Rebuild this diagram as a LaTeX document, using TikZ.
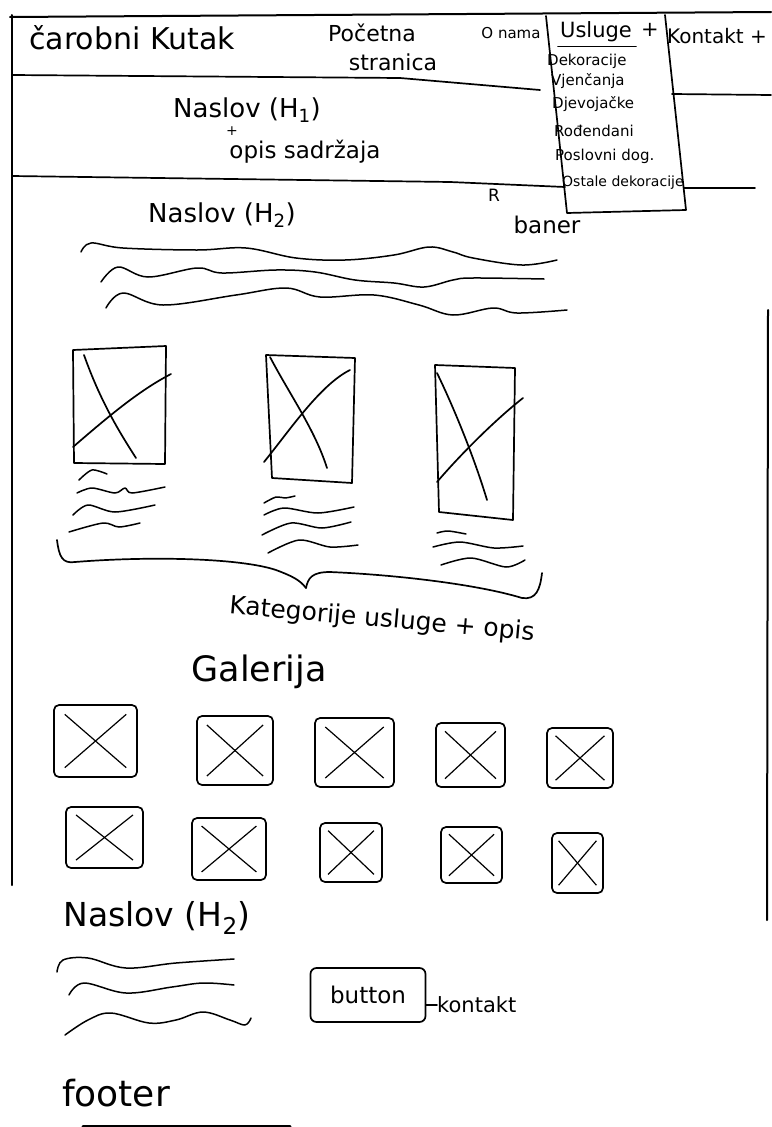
\documentclass[tikz,border=0pt]{standalone}
\usepackage{fontspec}
\setmainfont{DejaVu Sans}
\usetikzlibrary{calc}
\newcommand\myfs[1]{\fontsize{#1}{#1}\selectfont}
\tikzset{
  edge/.style={line width=2pt, line cap=round, line join=round},
  ink/.style={line width=1.7pt, line cap=round, line join=round},
  wav/.style={line width=1.5pt, line cap=round, line join=round},
  lbl/.style={inner sep=0pt, anchor=center},
  gbox/.style={draw, line width=1.7pt, rounded corners=5pt, inner sep=0pt,
    path picture={
      \draw[line width=1.2pt]
        ($(path picture bounding box.north west)!0.13!(path picture bounding box.south east)$) --
        ($(path picture bounding box.north west)!0.87!(path picture bounding box.south east)$);
      \draw[line width=1.2pt]
        ($(path picture bounding box.south west)!0.13!(path picture bounding box.north east)$) --
        ($(path picture bounding box.south west)!0.87!(path picture bounding box.north east)$);
    }},
}
\begin{document}
\begin{tikzpicture}[x=1pt,y=-1pt]
\useasboundingbox[fill=white] (0,0) rectangle (771,1127);

% page borders
\draw[edge] (10,17) -- (771,12);
\draw[edge] (12,15) -- (12,885);
\draw[edge] (768,310) -- (767,920);
\draw[edge, line width=3pt] (83,1126) -- (290,1126);

% header separators
\draw[ink] (12,75) -- (400,78) -- (540,90);
\draw[ink] (672,94) -- (771,95);
\draw[ink] (12,176) -- (450,182) -- (565,187);
\draw[ink] (684,188) -- (755,188);

% dropdown box
\draw[ink] (546,16) -- (567,213) -- (686,210) -- (665,15);

% header texts
\node[lbl] (logo) at (132,38) {\myfs{30}čarobni Kutak};
\node[lbl] (poc1) at (372,33) {\myfs{22}Početna};
\node[lbl] (poc2) at (393,62) {\myfs{22}stranica};
\node[lbl] (onama) at (511,33) {\myfs{15}O nama};
\node[lbl] (usl) at (596,32) {\myfs{21}Usluge};
\node[lbl] (uplus) at (650,30) {\myfs{21}+};
\draw[ink] (usl.south west) ++(-2,4) -- ($(usl.south east)+(4,4)$);
\node[lbl] (kont) at (717,36) {\myfs{20}Kontakt +};

% dropdown items
\node[lbl, anchor=west] (d1) at (547,61) {\myfs{15}Dekoracije};
\node[lbl, anchor=west] (d2) at (551,81) {\myfs{15}Vjenčanja};
\node[lbl, anchor=west] (d3) at (552,104) {\myfs{15}Djevojačke};
\node[lbl, anchor=west] (d4) at (554,131) {\myfs{15}Rođendani};
\node[lbl, anchor=west] (d5) at (555,156) {\myfs{15}Poslovni dog.};
\node[lbl, anchor=west] (d6) at (562,183) {\myfs{14}Ostale dekoracije};

% hero
\node[lbl] (h1) at (247,110) {\myfs{26}Naslov (H\textsubscript{1})};
\node[lbl] (hplus) at (232,131) {\myfs{14}+};
\node[lbl] (opis) at (305,152) {\myfs{23}opis sadržaja};
\node[lbl] (rmark) at (494,195) {\myfs{17}R};
\node[lbl] (baner) at (547,225) {\myfs{23}baner};

% section 1
\node[lbl] (h2a) at (222,215) {\myfs{26}Naslov (H\textsubscript{2})};
\draw[wav] plot[smooth, tension=0.6] coordinates {(81,252) (91,243) (123,248) (197,250) (246,248) (296,258) (345,260) (394,255) (429,247) (453,252) (473,258) (522,265) (557,260)};
\draw[wav] plot[smooth, tension=0.6] coordinates {(101,282) (118,267) (148,277) (197,268) (222,273) (276,270) (315,272) (355,280) (394,283) (424,287) (453,280) (473,278) (544,279)};
\draw[wav] plot[smooth, tension=0.6] coordinates {(106,308) (123,293) (163,305) (236,295) (286,288) (320,297) (374,295) (419,305) (453,315) (493,308) (517,313) (567,310)};

% category image boxes
\draw[ink] (73,350) -- (166,346) -- (165,464) -- (74,463) -- cycle;
\draw[ink] (73,447) .. controls (110,415) and (140,390) .. (171,374);
\draw[ink] (84,355) .. controls (100,400) and (118,430) .. (136,458);
\draw[ink] (266,355) -- (355,358) -- (352,483) -- (272,478) -- cycle;
\draw[ink] (264,462) .. controls (290,430) and (320,385) .. (350,370);
\draw[ink] (270,357) .. controls (290,395) and (315,430) .. (327,468);
\draw[ink] (435,365) -- (515,368) -- (513,520) -- (439,512) -- cycle;
\draw[ink] (437,482) .. controls (460,455) and (495,420) .. (523,398);
\draw[ink] (437,373) .. controls (455,410) and (475,460) .. (487,500);

% category text lines
\draw[wav] plot[smooth] coordinates {(79,480) (92,470) (107,474)};
\draw[wav] plot[smooth] coordinates {(77,493) (92,488) (115,493) (125,488) (132,493) (165,487)};
\draw[wav] plot[smooth] coordinates {(73,515) (88,505) (115,512) (155,505)};
\draw[wav] plot[smooth] coordinates {(69,532) (103,523) (119,527) (140,523)};
\draw[wav] plot[smooth] coordinates {(264,503) (276,497) (285,498) (295,496)};
\draw[wav] plot[smooth] coordinates {(264,515) (284,508) (318,513) (354,507)};
\draw[wav] plot[smooth] coordinates {(262,535) (291,523) (322,528) (351,522)};
\draw[wav] plot[smooth] coordinates {(268,553) (299,540) (330,547) (358,545)};
\draw[wav] plot[smooth] coordinates {(437,533) (448,531) (466,534)};
\draw[wav] plot[smooth] coordinates {(433,547) (460,542) (494,548) (523,546)};
\draw[wav] plot[smooth] coordinates {(441,565) (471,558) (506,567) (525,560)};

% brace
\draw[ink] (57,540) .. controls (59,556) and (62,564) .. (75,562)
  .. controls (150,556) and (240,558) .. (276,570)
  .. controls (292,576) and (300,580) .. (306,588);
\draw[ink] (306,588) .. controls (308,578) and (312,572) .. (330,572)
  .. controls (400,575) and (480,585) .. (522,598)
  .. controls (536,600) and (540,590) .. (542,573);

\node[lbl, rotate=-5] (kat) at (382,620) {\myfs{25}Kategorije usluge + opis};
\node[lbl] (gal) at (259,672) {\myfs{35}Galerija};

% gallery
\node[gbox, minimum width=83pt, minimum height=72pt] (g1) at (95.5,741) {};
\node[gbox, minimum width=76pt, minimum height=69pt] (g2) at (235,750.5) {};
\node[gbox, minimum width=79pt, minimum height=69pt] (g3) at (354.5,752.5) {};
\node[gbox, minimum width=69pt, minimum height=64pt] (g4) at (470.5,755) {};
\node[gbox, minimum width=66pt, minimum height=60pt] (g5) at (580,758) {};
\node[gbox, minimum width=77pt, minimum height=61pt] (k1) at (104.5,837.5) {};
\node[gbox, minimum width=74pt, minimum height=62pt] (k2) at (229,849) {};
\node[gbox, minimum width=62pt, minimum height=59pt] (k3) at (351,852.5) {};
\node[gbox, minimum width=61pt, minimum height=56pt] (k4) at (471.5,855) {};
\node[gbox, minimum width=51pt, minimum height=60pt] (k5) at (577.5,863) {};

% bottom section
\node[lbl] (h2b) at (157,918) {\myfs{33}Naslov (H\textsubscript{2})};
\draw[wav] plot[smooth, tension=0.6] coordinates {(57,972) (63,960) (88,958) (126,968) (176,963) (234,959)};
\draw[wav] plot[smooth, tension=0.6] coordinates {(69,995) (84,983) (126,993) (172,987) (203,983) (234,985)};
\draw[wav] plot[smooth, tension=0.6] coordinates {(65,1035) (88,1020) (111,1013) (149,1023) (176,1020) (203,1012) (230,1020) (245,1025) (251,1018)};

\node[lbl, draw, line width=1.7pt, rounded corners=6pt, minimum width=115pt, minimum height=54pt] (btn) at (368,995) {\myfs{23}button};
\node[lbl, anchor=west] (bk) at (437,1005) {\myfs{21}kontakt};
\draw[ink] (btn.east |- bk.west) -- (bk.west);

\node[lbl] (foot) at (116,1093) {\myfs{36}footer};
\end{tikzpicture}
\end{document}
